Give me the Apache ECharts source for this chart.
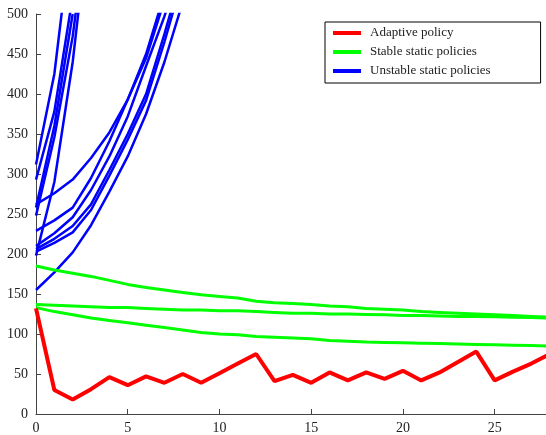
<!DOCTYPE html>
<html>
<head>
<meta charset="utf-8">
<script src="https://cdn.jsdelivr.net/npm/echarts@6/dist/echarts.min.js"></script>
<style>html,body{margin:0;padding:0;background:#fff;}#c{width:546px;height:435px;}</style>
</head>
<body>
<div id="c"></div>
<script>
// x positions (time steps)
var steps = [0,1,2,3,4,5,6,7,8,9,10,11,12,13,14,15,16,17,18,19,20,21,22,23,24,25,26,27,28];
var xTicks = [0,5,10,15,20,25];
var yTicks = [0,50,100,150,200,250,300,350,400,450,500];

// Adaptive policy
var adaptive = [132,30,18,31,46,36,47,39,50,39,51,63,75,41,49,39,52,42,52,44,54,42,52,65,78,42,53,63,75];

// Stable static policies
var stable1 = [185,180,176,172,167,162,158,155,152,149,147,145,141,139,138,137,135,134,132,131,130,128,127,126,125,124,123,122,121];
var stable2 = [137,136,135,134,133,133,132,131,130,130,129,129,128,127,126,126,125,125,124.5,124,123,123,122.5,122,122,121.5,121,120.5,120];
var stable3 = [133,128,124,120,117,114,111,108,105,102,100,99,97,96,95,94,92,91,90,89.5,89,88.5,88,87.5,87,86.5,86,85.5,85];

// Unstable static policies (steep group)
var unstA = [312,425,615];
var unstB = [293,378,522];
var unstC = [258,360,500];
var unstD = [248,346,472,650];
var unstE = [198,290,440,640];
// Unstable static policies (slower group)
var unstF = [262,276,293,320,352,393,450,525];
var unstG = [229,242,258,295,341,393,445,517];
var unstH = [210,226,246,280,322,372,435,497,570];
var unstI = [206,219,235,262,305,350,400,475,555];
var unstJ = [203,214,227,255,298,343,392,465,545];
var unstK = [155,177,202,236,278,322,375,440,515];

function pts(arr){ return arr.map(function(v,i){ return [steps[i], v]; }); }

var RED='#ff0000', GREEN='#00ff00', BLUE='#0000ff';
var series = [];
function add(name, arr, color, width){
  series.push({name:name, type:'line', data:pts(arr), symbol:'none', showSymbol:false,
    lineStyle:{color:color, width:width}, itemStyle:{color:color}, silent:true, z: name==='Adaptive policy'?5:3});
}
[unstA,unstB,unstC,unstD,unstE,unstF,unstG,unstH,unstI,unstJ,unstK].forEach(function(a){ add('Unstable static policies', a, BLUE, 2.5); });
[stable1,stable2,stable3].forEach(function(a){ add('Stable static policies', a, GREEN, 3); });
add('Adaptive policy', adaptive, RED, 4);

var FONT = '"Liberation Serif", "Times New Roman", serif';
var chart = echarts.init(document.getElementById('c'), null, {renderer:'canvas'});
chart.setOption({
  animation:false,
  backgroundColor:'#fff',
  grid:{left:36, right:0, top:14, bottom:19, containLabel:false},
  legend:{
    data:[
      {name:'Adaptive policy', icon:'rect', itemStyle:{color:RED}},
      {name:'Stable static policies', icon:'rect', itemStyle:{color:GREEN}},
      {name:'Unstable static policies', icon:'rect', itemStyle:{color:BLUE}}
    ],
    orient:'vertical', left:325, top:22,
    padding:[4,50,5,8], itemGap:5, itemWidth:28, itemHeight:4,
    backgroundColor:'#fff', borderColor:'#000', borderWidth:1, borderRadius:0,
    textStyle:{fontFamily:FONT, fontSize:13, color:'#222', lineHeight:14, padding:[0,0,0,4]},
    selectedMode:false
  },
  xAxis:{
    type:'value', min:0, max:27.8, interval:5,
    axisLine:{show:true, lineStyle:{color:'#444', width:1}},
    axisTick:{show:true, inside:true, length:5, lineStyle:{color:'#444'}},
    axisLabel:{fontFamily:FONT, fontSize:14, color:'#222', margin:7, showMaxLabel:false,
      formatter:function(v){ return xTicks.indexOf(v)>=0 ? String(v) : ''; }},
    splitLine:{show:false}
  },
  yAxis:{
    type:'value', min:0, max:500, interval:50,
    axisLine:{show:true, lineStyle:{color:'#444', width:1}},
    axisTick:{show:true, inside:true, length:5, lineStyle:{color:'#444'}},
    axisLabel:{fontFamily:FONT, fontSize:14, color:'#222', margin:8,
      formatter:function(v){ return yTicks.indexOf(v)>=0 ? String(v) : ''; }},
    splitLine:{show:false}
  },
  series:series
});
</script>
</body>
</html>
